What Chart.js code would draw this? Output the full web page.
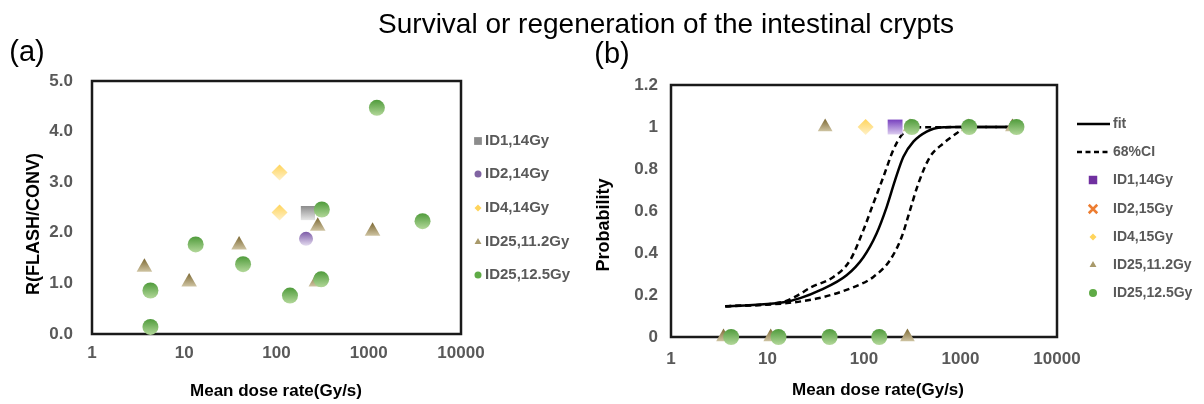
<!DOCTYPE html>
<html><head><meta charset="utf-8">
<script src="https://cdn.jsdelivr.net/npm/chart.js@4.4.1/dist/chart.umd.min.js"></script>
<style>
html,body{margin:0;padding:0;background:#fff;}
#wrap{position:relative;width:1204px;height:404px;overflow:hidden;font-family:"Liberation Sans",Arial,sans-serif;}
canvas{position:absolute;top:0;}
.t{position:absolute;white-space:nowrap;line-height:1;transform:translate(-50%,-50%);color:#000;}
.r{transform:translate(-50%,-50%) rotate(-90deg);}
.b{font-weight:bold;}
</style></head><body>
<div id="wrap">
<canvas id="ca" width="580" height="404" style="left:0;width:580px;height:404px"></canvas>
<canvas id="cb" width="624" height="404" style="left:580px;width:624px;height:404px"></canvas>
<div class="t" style="left:666px;top:24px;font-size:28px;">Survival or regeneration of the intestinal crypts</div>
<div class="t" style="left:27px;top:51px;font-size:29px;">(a)</div>
<div class="t" style="left:612px;top:53px;font-size:29px;">(b)</div>
<div class="t r b" style="left:33px;top:224px;font-size:18px;">R(FLASH/CONV)</div>
<div class="t r b" style="left:603px;top:225px;font-size:18px;">Probability</div>
<div class="t b" style="left:276px;top:390px;font-size:17px;">Mean dose rate(Gy/s)</div>
<div class="t b" style="left:878px;top:389px;font-size:17px;">Mean dose rate(Gy/s)</div>
</div>
<script>
// ---------- tick labels ----------
const xTickValues = [1, 10, 100, 1000, 10000];
const xTickLabels = ['1', '10', '100', '1000', '10000'];
const yTickValuesA = [0, 1, 2, 3, 4, 5];
const yTickLabelsA = ['0.0', '1.0', '2.0', '3.0', '4.0', '5.0'];
const yTickValuesB = [0, 0.2, 0.4, 0.6, 0.8, 1, 1.2];
const yTickLabelsB = ['0', '0.2', '0.4', '0.6', '0.8', '1', '1.2'];

// ---------- panel (a) series ----------
const seriesNamesA = ['ID1,14Gy', 'ID2,14Gy', 'ID4,14Gy', 'ID25,11.2Gy', 'ID25,12.5Gy'];
const a_id1_x = [219];
const a_id1_y = [2.39];
const a_id2_x = [209];
const a_id2_y = [1.88];
const a_id4_x = [108, 108];
const a_id4_y = [3.19, 2.40];
const a_id25a_x = [3.7, 11.3, 39.3, 280, 270, 1100];
const a_id25a_y = [1.32, 1.03, 1.76, 2.13, 1.03, 2.03];
const a_id25b_x = [1225, 3830, 310, 13.3, 43.4, 4.3, 4.3, 140, 305];
const a_id25b_y = [4.47, 2.23, 2.46, 1.77, 1.38, 0.86, 0.14, 0.76, 1.08];

// ---------- panel (b) series ----------
const seriesNamesB = ['fit', '68%CI', 'ID1,14Gy', 'ID2,15Gy', 'ID4,15Gy', 'ID25,11.2Gy', 'ID25,12.5Gy'];
const fit_x = [3.65, 14.7, 21.8, 35.2, 66, 98.6, 135, 172, 210, 256, 325, 446, 613, 1000, 3800];
const fit_y = [0.146, 0.165, 0.185, 0.223, 0.294, 0.38, 0.493, 0.62, 0.747, 0.858, 0.93, 0.978, 0.998, 1.0, 1.0];
const ciLow_x = [3.65, 14.7, 21.8, 27.7, 48.2, 71.8, 98.6, 125, 159, 201, 246, 325, 3800];
const ciLow_y = [0.146, 0.168, 0.205, 0.235, 0.286, 0.366, 0.509, 0.636, 0.763, 0.89, 0.962, 0.998, 1.0];
const ciHigh_x = [3.65, 14.7, 32.4, 71.8, 125, 186, 246, 300, 366, 483, 664, 913, 1159, 3800];
const ciHigh_y = [0.146, 0.16, 0.183, 0.231, 0.286, 0.366, 0.477, 0.604, 0.731, 0.858, 0.922, 0.97, 1.0, 1.0];
const b_id1_x = [210];
const b_id1_y = [1];
const b_id2_x = [210];
const b_id2_y = [1];
const b_id4_x = [104];
const b_id4_y = [1];
const b_id25a_x = [39.6, 300, 1200, 3450, 3.5, 10.8, 282];
const b_id25a_y = [1, 1, 1, 1, 0, 0, 0];
const b_id25b_x = [313, 1230, 3800, 4.2, 13, 44, 144];
const b_id25b_y = [1, 1, 1, 0, 0, 0, 0];

// ---------- helpers ----------
function pts(xs, ys) { return xs.map((x, i) => ({ x: x, y: ys[i] })); }
function grad(top, bot, r) {
  return function (c) {
    const ch = c.chart, ys = ch.scales && ch.scales.y;
    if (!ys || !c.raw) return top;
    const y = ys.getPixelForValue(c.raw.y);
    if (!isFinite(y)) return top;
    const g = ch.ctx.createLinearGradient(0, y - r, 0, y + r);
    g.addColorStop(0, top); g.addColorStop(1, bot);
    return g;
  };
}
const frame = {
  id: 'frame',
  beforeDatasetsDraw(chart) {
    const a = chart.chartArea, ctx = chart.ctx;
    ctx.save(); ctx.strokeStyle = '#1a1a1a'; ctx.lineWidth = 2.5;
    ctx.strokeRect(a.left, a.top, a.right - a.left, a.bottom - a.top);
    ctx.restore();
  }
};
const boxLegend = {
  id: 'boxLegend',
  afterDraw(chart, args, o) {
    if (!o || !o.items) return;
    const ctx = chart.ctx;
    ctx.save();
    ctx.font = o.font; ctx.textBaseline = 'middle'; ctx.textAlign = 'left';
    o.items.forEach((it, i) => {
      const y = o.y[i];
      ctx.save();
      if (it.line) {
        ctx.strokeStyle = '#000'; ctx.lineWidth = 2.5; ctx.setLineDash(it.dash || []);
        ctx.beginPath(); ctx.moveTo(o.lx0, y); ctx.lineTo(o.lx1, y); ctx.stroke();
      } else {
        ctx.fillStyle = it.color; ctx.strokeStyle = it.color; ctx.lineWidth = it.bw || 0;
        Chart.helpers.drawPoint(ctx, { pointStyle: it.style, radius: it.r, borderWidth: it.bw || 0, rotation: 0 }, o.mx, y);
      }
      ctx.restore();
      ctx.fillStyle = o.color;
      ctx.fillText(it.label, o.tx, y);
    });
    ctx.restore();
  }
};
const tickFont = { family: '"Liberation Sans", Arial, sans-serif', size: 17, weight: 'bold' };
function xScale(pad, h) {
  return {
    type: 'logarithmic', min: 1, max: 10000,
    grid: { display: false, drawTicks: false }, border: { display: false },
    afterBuildTicks: s => { s.ticks = xTickValues.map(v => ({ value: v })); },
    afterFit: s => { s.height = h; },
    ticks: { autoSkip: false, maxRotation: 0, padding: pad, color: '#595959', font: tickFont,
      callback: (v) => { const i = xTickValues.indexOf(v); return i >= 0 ? xTickLabels[i] : ''; } }
  };
}
function yScale(vals, labels, max, pad, w) {
  return {
    min: 0, max: max,
    grid: { display: false, drawTicks: false }, border: { display: false },
    afterBuildTicks: s => { s.ticks = vals.map(v => ({ value: v })); },
    afterFit: s => { s.width = w; },
    ticks: { autoSkip: false, padding: pad, color: '#595959', font: tickFont,
      callback: (v) => { const i = vals.findIndex(t => Math.abs(t - v) < 1e-9); return i >= 0 ? labels[i] : ''; } }
  };
}
const common = { responsive: false, animation: false, events: [], devicePixelRatio: 1 };

// ---------- chart (a) ----------
new Chart(document.getElementById('ca'), {
  type: 'scatter',
  data: { datasets: [
    { label: seriesNamesA[4], data: pts(a_id25b_x, a_id25b_y), order: 0, clip: false, pointStyle: 'circle', pointRadius: 8, pointBorderWidth: 0, backgroundColor: grad('#4f9b3b', '#b3d89a', 8) },
    { label: seriesNamesA[0], data: pts(a_id1_x, a_id1_y), order: 1, clip: false, pointStyle: 'rect', pointRadius: 10, pointBorderWidth: 0, backgroundColor: grad('#8c8c8c', '#e6e6e6', 7) },
    { label: seriesNamesA[1], data: pts(a_id2_x, a_id2_y), order: 2, clip: false, pointStyle: 'circle', pointRadius: 7, pointBorderWidth: 0, backgroundColor: grad('#7d5ca8', '#e4dcef', 7) },
    { label: seriesNamesA[2], data: pts(a_id4_x, a_id4_y), order: 3, clip: false, pointStyle: 'rectRot', pointRadius: 8, pointBorderWidth: 0, backgroundColor: grad('#ffd45c', '#fff1c8', 8) },
    { label: seriesNamesA[3], data: pts(a_id25a_x, a_id25a_y), order: 4, clip: false, pointStyle: 'triangle', pointRadius: 9, pointBorderWidth: 0, backgroundColor: grad('#7a6630', '#ebe3c8', 9) }
  ] },
  options: Object.assign({}, common, {
    layout: { padding: { left: 0, top: 81, right: 119, bottom: 0 } },
    scales: { x: xScale(9, 70), y: yScale(yTickValuesA, yTickLabelsA, 5, 19, 92) },
    plugins: {
      legend: { display: false }, tooltip: { enabled: false },
      boxLegend: {
        font: 'bold 15px "Liberation Sans", Arial, sans-serif', color: '#595959',
        mx: 478, tx: 485, y: [141, 174, 208, 242, 275],
        items: [
          { label: seriesNamesA[0], style: 'rect', r: 5.5, color: '#8c8c8c' },
          { label: seriesNamesA[1], style: 'circle', r: 3.5, color: '#8064a2' },
          { label: seriesNamesA[2], style: 'rectRot', r: 3.5, color: '#ffd45c' },
          { label: seriesNamesA[3], style: 'triangle', r: 4, color: '#a8996a' },
          { label: seriesNamesA[4], style: 'circle', r: 3.5, color: '#5fab46' }
        ]
      }
    }
  }),
  plugins: [frame, boxLegend]
});

// ---------- chart (b) ----------
const lineBase = { showLine: true, pointRadius: 0, borderColor: '#000', borderWidth: 2.5, backgroundColor: '#000', cubicInterpolationMode: 'monotone', fill: false };
new Chart(document.getElementById('cb'), {
  type: 'scatter',
  data: { datasets: [
    { label: seriesNamesB[6], data: pts(b_id25b_x, b_id25b_y), order: 0, clip: false, pointStyle: 'circle', pointRadius: 8, pointBorderWidth: 0, backgroundColor: grad('#4f9b3b', '#b3d89a', 8) },
    { label: seriesNamesB[2], data: pts(b_id1_x, b_id1_y), order: 1, clip: false, pointStyle: 'rect', pointRadius: 10.5, pointBorderWidth: 0, backgroundColor: grad('#7b45c0', '#d9c9ee', 7) },
    { label: seriesNamesB[3], data: pts(b_id2_x, b_id2_y), order: 2, clip: false, pointStyle: 'crossRot', pointRadius: 5, pointBorderWidth: 2.5, borderColor: '#ed7d31', backgroundColor: '#ed7d31' },
    { label: seriesNamesB[4], data: pts(b_id4_x, b_id4_y), order: 3, clip: false, pointStyle: 'rectRot', pointRadius: 8, pointBorderWidth: 0, backgroundColor: grad('#ffd45c', '#fff1c8', 8) },
    { label: seriesNamesB[5], data: pts(b_id25a_x, b_id25a_y), order: 4, clip: false, pointStyle: 'triangle', pointRadius: 8.5, pointBorderWidth: 0, backgroundColor: grad('#7a6630', '#ebe3c8', 8.5) },
    Object.assign({ label: seriesNamesB[0], data: pts(fit_x, fit_y), order: 5 }, lineBase),
    Object.assign({ label: seriesNamesB[1], data: pts(ciLow_x, ciLow_y), order: 6, borderDash: [6, 4] }, lineBase),
    Object.assign({ label: seriesNamesB[1], data: pts(ciHigh_x, ciHigh_y), order: 7, borderDash: [6, 4] }, lineBase)
  ] },
  options: Object.assign({}, common, {
    layout: { padding: { left: 0, top: 85, right: 147, bottom: 0 } },
    scales: { x: xScale(12, 67), y: yScale(yTickValuesB, yTickLabelsB, 1.2, 13, 91) },
    plugins: {
      legend: { display: false }, tooltip: { enabled: false },
      boxLegend: {
        font: 'bold 14px "Liberation Sans", Arial, sans-serif', color: '#595959',
        lx0: 497, lx1: 530, mx: 513, tx: 533, y: [124, 152, 180, 209, 237, 265, 293],
        items: [
          { label: seriesNamesB[0], line: true, dash: [] },
          { label: seriesNamesB[1], line: true, dash: [5, 3.5] },
          { label: seriesNamesB[2], style: 'rect', r: 6, color: '#7030a0' },
          { label: seriesNamesB[3], style: 'crossRot', r: 6, bw: 2.5, color: '#ed7d31' },
          { label: seriesNamesB[4], style: 'rectRot', r: 3.5, color: '#ffd45c' },
          { label: seriesNamesB[5], style: 'triangle', r: 4, color: '#a8996a' },
          { label: seriesNamesB[6], style: 'circle', r: 4, color: '#5fab46' }
        ]
      }
    }
  }),
  plugins: [frame, boxLegend]
});
</script>
</body></html>
